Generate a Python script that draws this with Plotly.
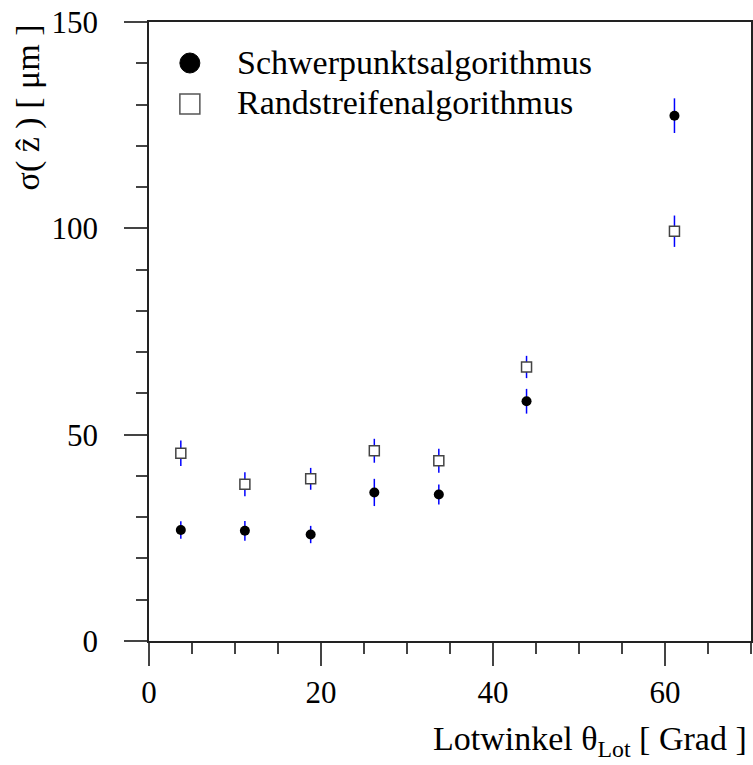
import plotly.graph_objects as go

# data
theta = [3.7, 11.15, 18.8, 26.2, 33.7, 43.9, 61.1]
schwer = [26.9, 26.7, 25.8, 36.0, 35.5, 58.1, 127.3]
schwer_err = [2.1, 2.4, 2.1, 3.3, 2.45, 3.0, 4.2]
rand = [45.5, 38.0, 39.3, 46.1, 43.7, 66.4, 99.3]
rand_err = [3.1, 2.9, 2.65, 2.9, 2.9, 2.7, 3.8]
series_names = ["Schwerpunktsalgorithmus", "Randstreifenalgorithmus"]

FONT = "Liberation Serif"
W, H = 753, 765
ML, MR, MT, MB = 149, 0, 22, 124
PW, PH = W - ML - MR, H - MT - MB


def px2paper(px, py):
    return (px - ML) / PW, (H - MB - py) / PH


fig = go.Figure()
fig.add_trace(go.Scatter(
    x=theta, y=schwer, mode="markers", name=series_names[0], showlegend=False,
    marker=dict(symbol="circle", size=10, color="black"),
    error_y=dict(type="data", array=schwer_err, color="blue", thickness=1.5, width=0),
))
fig.add_trace(go.Scatter(
    x=theta, y=rand, mode="markers", name=series_names[1], showlegend=False,
    marker=dict(symbol="square", size=10, color="white", line=dict(color="#444", width=1.5)),
    error_y=dict(type="data", array=rand_err, color="blue", thickness=1.5, width=0),
))

axis_common = dict(
    showgrid=False, zeroline=False, showline=True, linecolor="#222", linewidth=1.5,
    ticks="outside", tickcolor="#444", tickwidth=1.5, ticklen=23,
    tickfont=dict(family=FONT, size=31, color="black"),
)
fig.update_xaxes(range=[0, 70], tick0=0, dtick=20, mirror=True,
                 minor=dict(dtick=5, ticks="outside", ticklen=11, tickcolor="#444", tickwidth=1.5),
                 ticklabelstandoff=0, **axis_common)
fig.update_yaxes(range=[0, 150], tick0=0, dtick=50, mirror=True,
                 minor=dict(dtick=10, ticks="outside", ticklen=11, tickcolor="#444", tickwidth=1.5),
                 ticklabelstandoff=20, **axis_common)

# axis titles
tx, ty = px2paper(28, 22)
fig.add_annotation(text="σ( z\u0302 ) [ μm ]", xref="paper", yref="paper", x=tx, y=ty,
                   xanchor="center", yanchor="top", textangle=-90, showarrow=False,
                   font=dict(family=FONT, size=34, color="black"))
tx, ty = px2paper(751, 764)
fig.add_annotation(text="Lotwinkel θ<sub>Lot</sub> [ Grad ]", xref="paper", yref="paper",
                   x=tx, y=ty, xanchor="right", yanchor="bottom", showarrow=False,
                   font=dict(family=FONT, size=34, color="black"))

# manual legend
sx, sy1 = px2paper(190, 63)
_, sy2 = px2paper(190, 104)
fig.add_shape(type="circle", xref="paper", yref="paper", xsizemode="pixel", ysizemode="pixel",
              xanchor=sx, yanchor=sy1, x0=-10, x1=10, y0=-10, y1=10,
              fillcolor="black", line=dict(color="black", width=1))
fig.add_shape(type="rect", xref="paper", yref="paper", xsizemode="pixel", ysizemode="pixel",
              xanchor=sx, yanchor=sy2, x0=-10, x1=10, y0=-10, y1=10,
              fillcolor="white", line=dict(color="#555", width=1.5))
lx, ly1 = px2paper(235, 62)
_, ly2 = px2paper(235, 103)
for name, yy in zip(series_names, [ly1, ly2]):
    fig.add_annotation(text=name, xref="paper", yref="paper", x=lx, y=yy,
                       xanchor="left", yanchor="middle", showarrow=False,
                       font=dict(family=FONT, size=34, color="black"))

fig.update_layout(
    width=W, height=H,
    margin=dict(l=ML, r=MR, t=MT, b=MB),
    paper_bgcolor="white", plot_bgcolor="white",
    showlegend=False,
)

fig.write_html("out.html")
